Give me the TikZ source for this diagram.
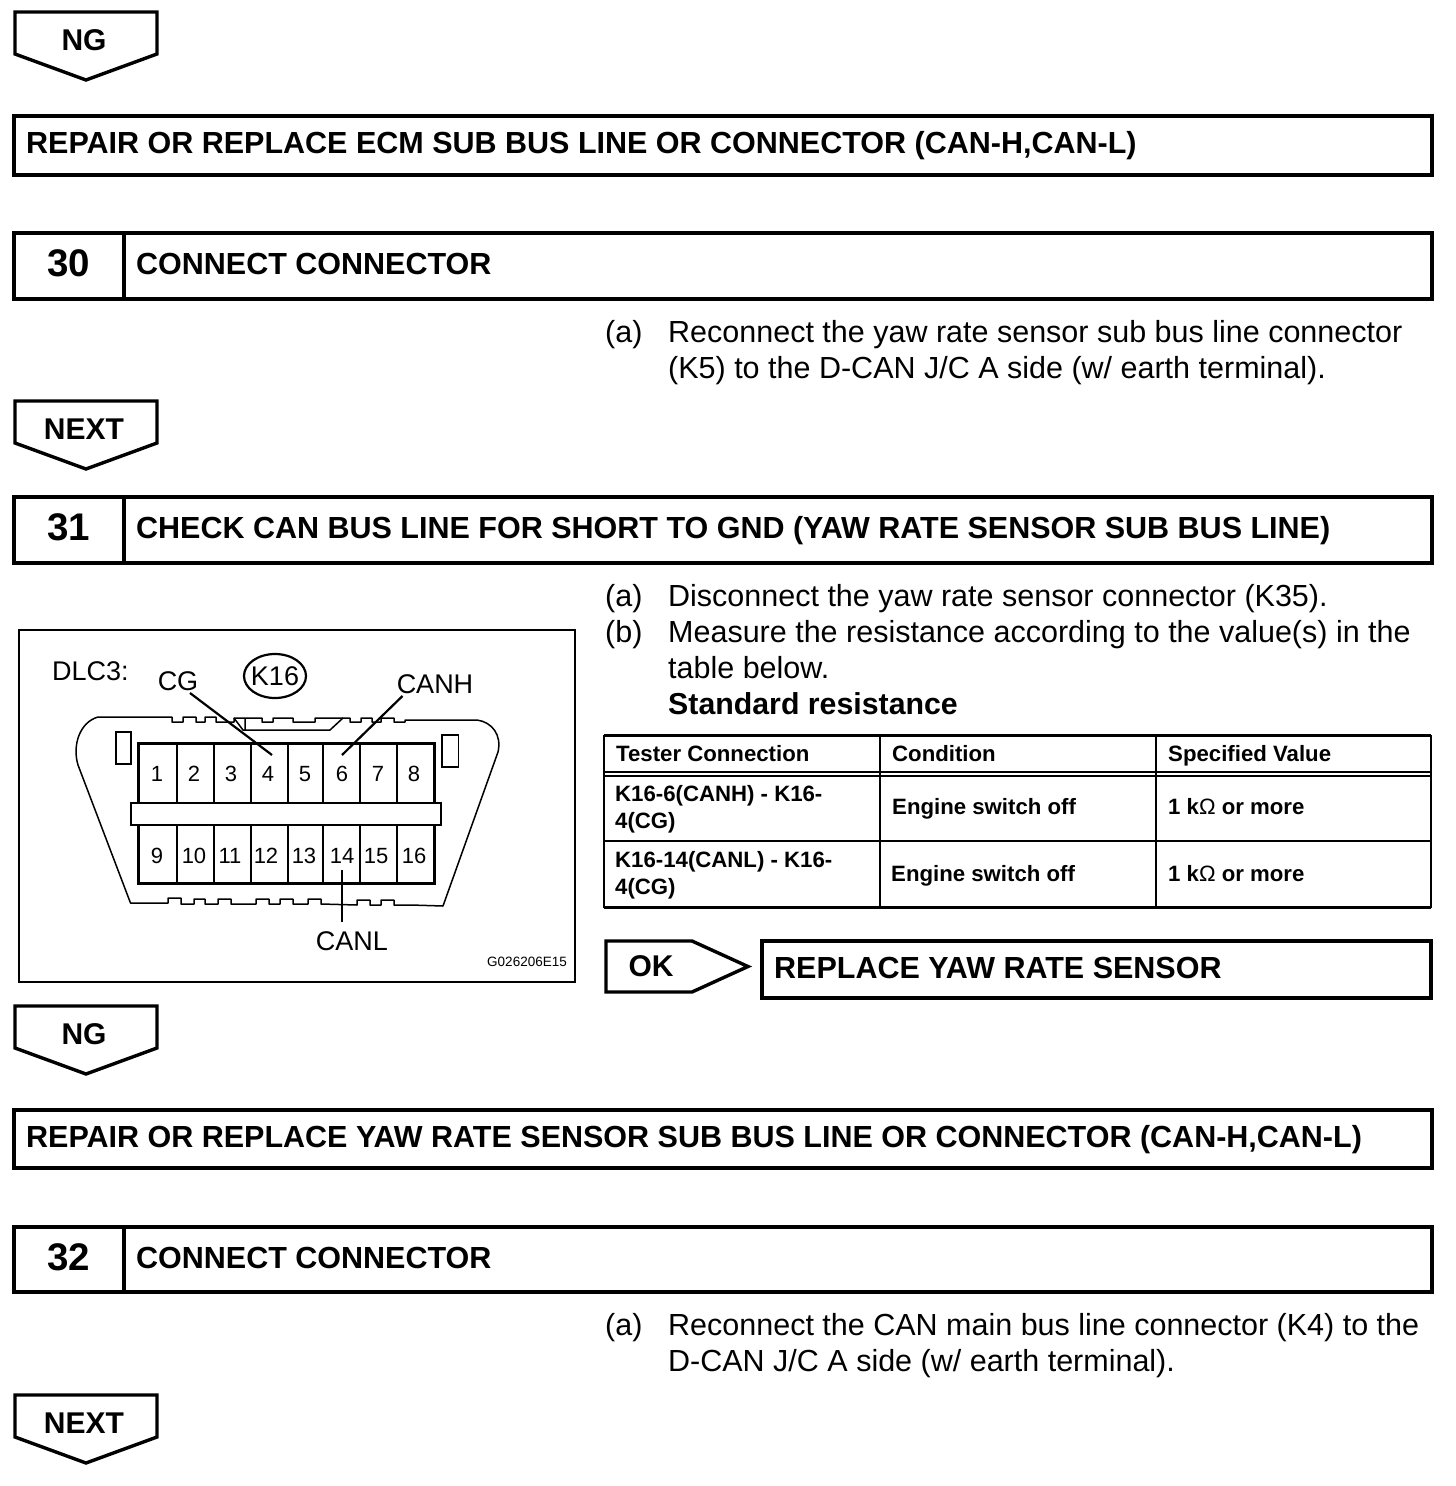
\documentclass[tikz,border=0pt]{standalone}
\usepackage{fontspec}
\setmainfont{Liberation Sans}
\newcommand{\fsz}[1]{\fontsize{#1}{#1}\selectfont}
\tikzset{
 thickbox/.style={draw=black,line width=4pt,fill=white,line join=miter},
 flowarrow/.style={draw=black,line width=3.4pt,fill=white,line join=miter},
 hdg/.style={anchor=base west,inner sep=0pt,font=\fsz{30.5}\bfseries},
 stepnum/.style={anchor=base,inner sep=0pt,font=\fsz{38.5}\bfseries},
 flowlab/.style={anchor=base,inner sep=0pt,font=\fsz{30}\bfseries},
 bodytxt/.style={anchor=base west,inner sep=0pt,font=\fsz{30.5}},
 boldtxt/.style={anchor=base west,inner sep=0pt,font=\fsz{30.3}\bfseries},
 tabtxt/.style={anchor=base west,inner sep=0pt,font=\fsz{22.2}\bfseries},
 tabline/.style={draw=black,line width=1.6pt},
 tabedge/.style={draw=black,line width=3pt},
 figlab/.style={anchor=base,inner sep=0pt,font=\fsz{27}},
 pinlab/.style={anchor=base,inner sep=0pt,font=\fsz{22}},
 figline/.style={draw=black,line width=2.2pt},
 pinedge/.style={draw=black,line width=3pt},
 pinsep/.style={draw=black,line width=1.6pt},
 shellline/.style={draw=black,line width=1.5pt,line join=round},
}
% \flowdown{name}{top}{label}
\newcommand{\flowdown}[3]{%
 \draw[flowarrow] (15,#2) -- (157,#2) -- (157,#2+42) -- (86,#2+68) -- (15,#2+42) -- cycle;
 \node[flowlab] (#1) at (84,#2+38) {#3};
}
% \stepbar{name}{top}{bottom}{num}{text}
\newcommand{\stepbar}[5]{%
 \draw[thickbox] (14,#2) rectangle (1432,#3);
 \draw[draw=black,line width=3.6pt] (124,#2) -- (124,#3);
 \node[stepnum] (#1n) at (68.5,#2+43) {#4};
 \node[hdg] (#1t) at (136,#2+41) {#5};
}
\begin{document}
\begin{tikzpicture}[x=1pt,y=-1pt]
\useasboundingbox (0,0) rectangle (1456,1486);
\fill[white] (0,0) rectangle (1456,1486);

\flowdown{ngA}{12}{NG}
\draw[thickbox] (14,116) rectangle (1432,175);
\node[hdg] (repA) at (26,153) {REPAIR OR REPLACE ECM SUB BUS LINE OR CONNECTOR (CAN-H,CAN-L)};

\stepbar{sA}{233}{299}{30}{CONNECT CONNECTOR}
\node[bodytxt] (a1) at (605,342) {(a)};
\node[bodytxt] (a2) at (668,342) {Reconnect the yaw rate sensor sub bus line connector};
\node[bodytxt] (a3) at (668,378) {(K5) to the D-CAN J/C A side (w/ earth terminal).};

\flowdown{nxA}{401}{NEXT}

\stepbar{sB}{497}{563}{31}{CHECK CAN BUS LINE FOR SHORT TO GND (YAW RATE SENSOR SUB BUS LINE)}

\node[bodytxt] (b1) at (605,606) {(a)};
\node[bodytxt] (b2) at (668,606) {Disconnect the yaw rate sensor connector (K35).};
\node[bodytxt] (b3) at (605,642) {(b)};
\node[bodytxt] (b4) at (668,642) {Measure the resistance according to the value(s) in the};
\node[bodytxt] (b5) at (668,678) {table below.};
\node[boldtxt] (b6) at (668,714) {Standard resistance};

% table
\draw[tabedge] (604,735) -- (1431,735);
\draw[tabline] (604,772) -- (1431,772);
\draw[tabline] (604,776) -- (1431,776);
\draw[tabline] (604,841) -- (1431,841);
\draw[tabedge] (604,907.5) -- (1431,907.5);
\foreach \xx in {604,880,1156,1431} \draw[tabline] (\xx,735) -- (\xx,907.5);
\node[tabtxt] (h1) at (616,761) {Tester Connection};
\node[tabtxt] (h2) at (892,761) {Condition};
\node[tabtxt] (h3) at (1168,761) {Specified Value};
\node[tabtxt] (c11) at (615,801) {K16-6(CANH) - K16-};
\node[tabtxt] (c12) at (615,828) {4(CG)};
\node[tabtxt] (c13) at (892,814) {Engine switch off};
\node[tabtxt] (c14) at (1168,814) {1 k{\mdseries\char"03A9} or more};
\node[tabtxt] (c21) at (615,867) {K16-14(CANL) - K16-};
\node[tabtxt] (c22) at (615,894) {4(CG)};
\node[tabtxt] (c23) at (891,881) {Engine switch off};
\node[tabtxt] (c24) at (1168,881) {1 k{\mdseries\char"03A9} or more};

% OK arrow and result
\draw[flowarrow] (606,941) -- (692,941) -- (748,966.5) -- (692,992) -- (606,992) -- cycle;
\node[flowlab] (okl) at (651,976) {OK};
\draw[thickbox] (762,941) rectangle (1431,998);
\node[hdg] (repl) at (774,978) {REPLACE YAW RATE SENSOR};

% figure
\draw[draw=black,line width=2.4pt,fill=white] (19,630) rectangle (575,982);
\node[figlab,anchor=base west] (dlc) at (52,680) {DLC3:};
\node[figlab] (cg) at (178,690) {CG};
\node[figlab] (k16) at (275,685) {K16};
\draw[draw=black,line width=2.2pt] (275,676) ellipse [x radius=31, y radius=22];
\node[figlab] (canh) at (435,693) {CANH};
\node[figlab] (canl) at (352,950) {CANL};
\node[anchor=base east,inner sep=0pt,font=\fsz{13.5}] (code) at (567,966) {G026206E15};

% shell
\draw[shellline]
 (130.5,903) -- (78,765) .. controls (72,745) and (80,722) .. (98,717) -- (172,717)
 -- (172,722) -- (183,722) -- (183,717) -- (196,717) -- (196,722) -- (205,722) -- (205,717)
 -- (216,717) -- (216,722) -- (234,722) -- (234,718) -- (245,718)
 -- (245,718) -- (262,718) -- (262,722) -- (273,722) -- (273,718) -- (293,718) -- (293,722)
 -- (315,722) -- (315,718) -- (343,718) -- (350,718) -- (350,722) -- (361,722) -- (361,718)
 -- (372,718) -- (372,722) -- (381,722) -- (381,718) -- (394,718) -- (394,722) -- (405,722)
 -- (405,720) -- (477,720) .. controls (492,722) and (502,735) .. (498,752)
 -- (443,906) -- (411,905) -- (394,905) -- (394,900) -- (381,900) -- (381,905) -- (370,905)
 -- (370,900) -- (357,900) -- (357,905) -- (321,904) -- (321,899) -- (308,899) -- (308,904)
 -- (293,904) -- (293,899) -- (280,899) -- (280,904) -- (269,904) -- (269,899) -- (256,899)
 -- (256,904) -- (231,904) -- (231,899) -- (218,899) -- (218,904) -- (205,904) -- (205,899)
 -- (194,899) -- (194,904) -- (181,904) -- (181,898) -- (168,898) -- (168,903) -- cycle;
\draw[shellline] (234,718) -- (243,730) -- (245,730) -- (245,718);
\draw[shellline] (245,730) -- (330,730) -- (343,718);
\draw[draw=black,line width=1.6pt] (116,732) rectangle (131,764);
\draw[draw=black,line width=1.6pt] (442,735) rectangle (458.5,767);

% pins
\draw[pinedge,fill=white] (138.5,743) rectangle (434.5,883);
\foreach \xx in {177,214,251,288,323,360,397} \draw[pinsep] (\xx,743) -- (\xx,883);
\draw[draw=black,line width=2.6pt,fill=white] (131,803) rectangle (441,825);
\foreach \nn/\xx in {1/157,2/194,3/231,4/268,5/305,6/342,7/378,8/414}
  \node[pinlab] (p\nn) at (\xx,781) {\nn};
\foreach \nn/\xx in {9/157,10/194,11/230,12/266,13/304,14/342,15/376,16/414}
  \node[pinlab] (p\nn) at (\xx,863) {\nn};

\coordinate (cgA) at (190,693);  \coordinate (cgB) at (272,755);
\coordinate (chA) at (402.5,696);\coordinate (chB) at (342,755);
\coordinate (clA) at (342,870);  \coordinate (clB) at (342,922);
\draw[figline] (cgA) -- (cgB);
\draw[figline] (chA) -- (chB);
\draw[figline] (clA) -- (clB);

\flowdown{ngB}{1006}{NG}
\draw[thickbox] (14,1110) rectangle (1432,1168);
\node[hdg] (repB) at (26,1147) {REPAIR OR REPLACE YAW RATE SENSOR SUB BUS LINE OR CONNECTOR (CAN-H,CAN-L)};

\stepbar{sC}{1227}{1292}{32}{CONNECT CONNECTOR}
\node[bodytxt] (d1) at (605,1335) {(a)};
\node[bodytxt] (d2) at (668,1335) {Reconnect the CAN main bus line connector (K4) to the};
\node[bodytxt] (d3) at (668,1371) {D-CAN J/C A side (w/ earth terminal).};

\flowdown{nxB}{1395}{NEXT}
\end{tikzpicture}
\end{document}
